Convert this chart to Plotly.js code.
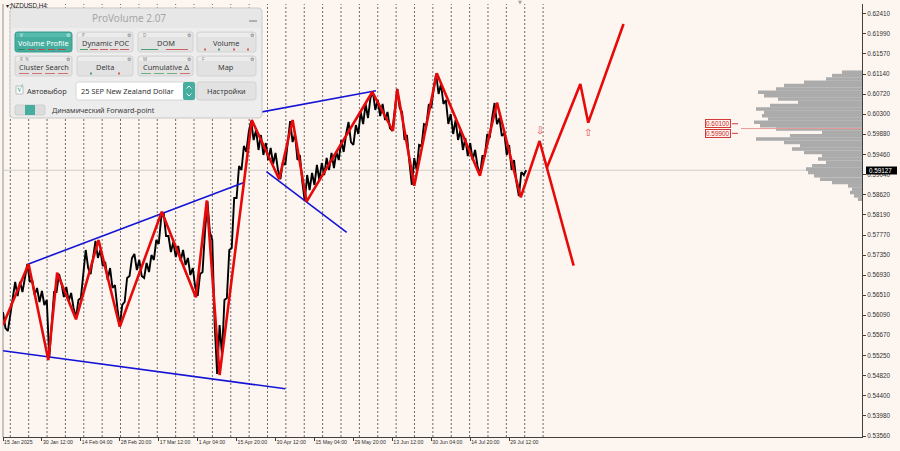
<!DOCTYPE html>
<html>
<head>
<meta charset="utf-8">
<script src="https://cdn.plot.ly/plotly-3.0.1.min.js"></script>
<style>
  html, body { margin: 0; padding: 0; background: #FDF6F0; }
  #chart { width: 900px; height: 451px; }
</style>
</head>
<body>
<div id="chart"></div>
<script>
// ---------------- NZDUSD, H4 : price data ----------------
// Price path sampled every 4 H4 bars (swing extremes of each half-group)
const STEP = 4;
const pricePath = [
  0.56157, 0.55822, 0.55759, 0.56074, 0.56409, 0.56786, 0.56492, 0.56786, 0.56576, 0.56870,
  0.57163, 0.56786, 0.56828, 0.56513, 0.56660, 0.56367, 0.56597, 0.56304, 0.56409, 0.55194,
  0.55885, 0.56576, 0.56576, 0.56953, 0.56765, 0.56472, 0.56681, 0.56388, 0.56555, 0.56241,
  0.56032, 0.56409, 0.56451, 0.56932, 0.57456, 0.57079, 0.56953, 0.57289, 0.57645, 0.57289,
  0.57456, 0.57121, 0.57205, 0.56828, 0.57079, 0.56660, 0.56723, 0.56241, 0.55864, 0.56304,
  0.56367, 0.56870, 0.56911, 0.57289, 0.57372, 0.57037, 0.57247, 0.56911, 0.56870, 0.57184,
  0.56995, 0.57351, 0.57247, 0.57666, 0.57582, 0.58126, 0.58252, 0.57749, 0.57749, 0.57414,
  0.57624, 0.57309, 0.57540, 0.57226, 0.57456, 0.57142, 0.57289, 0.56932, 0.57079, 0.56681,
  0.56492, 0.56953, 0.56995, 0.57833, 0.58482, 0.57833, 0.57666, 0.55885, 0.54859, 0.55885,
  0.55257, 0.56409, 0.56451, 0.57456, 0.57498, 0.58545, 0.58545, 0.59216, 0.59132, 0.59635,
  0.59509, 0.59928, 0.60158, 0.59760, 0.59970, 0.59551, 0.59865, 0.59446, 0.59697, 0.59341,
  0.59593, 0.59258, 0.59488, 0.59132, 0.58943, 0.59299, 0.59237, 0.59697, 0.60158, 0.59718,
  0.59886, 0.59341, 0.59446, 0.58880, 0.58482, 0.59027, 0.58713, 0.59069, 0.58818, 0.59237,
  0.58922, 0.59278, 0.59027, 0.59383, 0.59132, 0.59488, 0.59174, 0.59509, 0.59341, 0.59760,
  0.59509, 0.59886, 0.60137, 0.59718, 0.59656, 0.60074, 0.59886, 0.60347, 0.60095, 0.60514,
  0.60221, 0.60640, 0.60766, 0.60389, 0.60598, 0.60263, 0.60514, 0.60179, 0.60347, 0.60012,
  0.59949, 0.60389, 0.60829, 0.60431, 0.60347, 0.59760, 0.59865, 0.59299, 0.58818, 0.59383,
  0.59132, 0.59656, 0.59635, 0.60095, 0.60074, 0.60514, 0.60431, 0.60850, 0.61143, 0.60724,
  0.60933, 0.60514, 0.60598, 0.60095, 0.60305, 0.59886, 0.60179, 0.59760, 0.59970, 0.59551,
  0.59802, 0.59425, 0.59697, 0.59341, 0.59551, 0.59216, 0.59027, 0.59425, 0.59425, 0.59886,
  0.59802, 0.60221, 0.60535, 0.60095, 0.60221, 0.59844, 0.59907, 0.59446, 0.59656, 0.59132,
  0.59341, 0.58880, 0.58587, 0.59090, 0.59027
];
const lastBid = 0.59127;

// Zigzag swing points (history + projected path)
const zigzagBar   = [0, 42, 74.5, 89, 120, 157, 192, 261, 317, 335, 356, 409, 454, 476, 499, 607, 641, 648, 676, 713, 784, 812, 851, 882, 938];
const zigzagPrice = [0.55885, 0.57163, 0.55152, 0.56981, 0.56004, 0.57666, 0.55849, 0.58258, 0.56465, 0.58493, 0.54838, 0.60179, 0.58937, 0.60179, 0.58468, 0.60766, 0.59949, 0.60822, 0.58803, 0.61157, 0.59012, 0.60542, 0.58560, 0.59739, 0.57127];
// Alternative (bullish) projection
const altBar   = [894, 949, 962, 1020];
const altPrice = [0.59180, 0.60933, 0.60123, 0.62190];

// Trend lines: [bar0, bar1], [price0, price1]
const trendLines = [
  { bars: [42, 395],  prices: [0.57163, 0.58866] },
  { bars: [406, 613], prices: [0.60301, 0.60793] },
  { bars: [433, 565], prices: [0.59096, 0.57827] },
  { bars: [0, 464],   prices: [0.55347, 0.54549] }
];

// Volume profile (price level -> volume)
const vpPrice = [0.6118, 0.6111, 0.6104, 0.6097, 0.6090, 0.6083, 0.6076, 0.6069, 0.6062, 0.6055,
                 0.6048, 0.6041, 0.6034, 0.6027, 0.6020, 0.6013, 0.6006, 0.5999, 0.5992, 0.5985,
                 0.5978, 0.5971, 0.5964, 0.5957, 0.5950, 0.5943, 0.5936, 0.5929, 0.5922, 0.5915,
                 0.5908, 0.5901, 0.5894, 0.5887, 0.5880, 0.5873, 0.5866, 0.5859, 0.5852];
const vpVolume = [20, 30, 36, 58, 78, 86, 104, 98, 84, 64,
                  92, 106, 98, 100, 94, 108, 102, 86, 40, 72,
                  106, 78, 62, 70, 58, 40, 44, 36, 50, 56,
                  54, 48, 42, 30, 14, 10, 12, 8, 4];
const pocPrice = 0.6000;
const levelLabels = [0.60100, 0.59900];

// Axis labels
const timeTickBars = [0, 64, 128, 192, 256, 320, 384, 448, 512, 576, 640, 704, 768, 832];
const timeTickText = ['15 Jan 2025', '30 Jan 12:00', '14 Feb 04:00', '28 Feb 20:00', '17 Mar 12:00',
                      '1 Apr 04:00', '15 Apr 20:00', '30 Apr 12:00', '15 May 04:00', '29 May 20:00',
                      '13 Jun 12:00', '30 Jun 04:00', '14 Jul 20:00', '29 Jul 12:00'];
const priceTicks = [0.62410, 0.61990, 0.61570, 0.61140, 0.60720, 0.60300, 0.59880, 0.59460, 0.59040,
                    0.58620, 0.58190, 0.57770, 0.57350, 0.56930, 0.56510, 0.56090, 0.55670, 0.55250,
                    0.54820, 0.54400, 0.53980, 0.53560];

// ---------------- geometry helpers ----------------
const BG = '#FDF6F0';
const M = { l: 3, r: 38, t: 4, b: 14 };
const W = 900 - M.l - M.r, H = 451 - M.t - M.b;
const pX = x => (x - M.l) / W;
const pY = y => (M.t + H - y) / H;
const P = (x, y) => pX(x).toFixed(5) + ',' + pY(y).toFixed(5);
function roundRect(x0, y0, x1, y1, r) {
  return 'M' + P(x0 + r, y0) + ' L' + P(x1 - r, y0) + ' Q' + P(x1, y0) + ' ' + P(x1, y0 + r) +
         ' L' + P(x1, y1 - r) + ' Q' + P(x1, y1) + ' ' + P(x1 - r, y1) +
         ' L' + P(x0 + r, y1) + ' Q' + P(x0, y1) + ' ' + P(x0, y1 - r) +
         ' L' + P(x0, y0 + r) + ' Q' + P(x0, y0) + ' ' + P(x0 + r, y0) + ' Z';
}

// ---------------- traces ----------------
const pathY = pricePath.concat([lastBid]);
const pathX = pathY.map((_, i) => i * STEP);

const traces = [];
traces.push({
  type: 'bar', orientation: 'h', x: vpVolume, y: vpPrice, width: 0.00074,
  xaxis: 'x2', yaxis: 'y', marker: { color: '#ABABAB', line: { width: 0 } }, hoverinfo: 'skip'
});
traces.push({ type: 'scatter', mode: 'lines', x: pathX, y: pathY, line: { color: '#000000', width: 1.9 }, hoverinfo: 'skip' });
trendLines.forEach(t => traces.push({
  type: 'scatter', mode: 'lines', x: t.bars, y: t.prices, line: { color: '#1414D6', width: 1.6 }, hoverinfo: 'skip'
}));
traces.push({ type: 'scatter', mode: 'lines', x: zigzagBar, y: zigzagPrice, line: { color: '#E60A0A', width: 2.6 }, hoverinfo: 'skip' });
traces.push({ type: 'scatter', mode: 'lines', x: altBar, y: altPrice, line: { color: '#E60A0A', width: 2.6 }, hoverinfo: 'skip' });

// ---------------- shapes & annotations ----------------
const shapes = [];
const ann = [];

// window edge on the left
shapes.push({ type: 'line', xref: 'paper', yref: 'paper', x0: 0, x1: 0, y0: 0, y1: 1,
              line: { color: '#8E8E8E', width: 1 }, layer: 'below' });
// weekly dotted grid
const gridFirst = 12, gridStep = 30.2, gridCount = 30;
for (let k = 0; k < gridCount; k++) {
  const gx = gridFirst + k * gridStep;
  shapes.push({ type: 'line', xref: 'x', yref: 'paper', x0: gx, x1: gx, y0: 0, y1: 1,
                line: { color: '#6A6A6A', width: 1, dash: '2px,2px' }, layer: 'below' });
}
// bid line
shapes.push({ type: 'line', xref: 'paper', yref: 'y', x0: 0, x1: 1, y0: lastBid, y1: lastBid,
              line: { color: '#CFCBC8', width: 1 }, layer: 'below' });
// point of control
shapes.push({ type: 'line', xref: 'paper', yref: 'y', x0: pX(741), x1: 1, y0: pocPrice, y1: pocPrice,
              line: { color: '#E59A9A', width: 1 }, layer: 'above' });
// level labels
levelLabels.forEach(v => {
  shapes.push({ type: 'line', xref: 'paper', yref: 'y', x0: pX(732), x1: pX(738), y0: v, y1: v,
                line: { color: '#D23A3A', width: 1 }, layer: 'above' });
  ann.push({ xref: 'paper', yref: 'y', x: pX(705), y: v, xanchor: 'left', yanchor: 'middle',
             text: v.toFixed(5), showarrow: false, font: { family: 'Liberation Sans', size: 6.4, color: '#C82828' },
             bordercolor: '#D23A3A', borderwidth: 1, borderpad: 0, bgcolor: '#FFF3EE' });
});
// projection arrows
ann.push({ xref: 'x', yref: 'y', x: zigzagBar[23], y: zigzagPrice[23], yshift: 11, text: '⇩', showarrow: false,
           font: { family: 'DejaVu Sans', size: 10, color: '#E04848' } });
ann.push({ xref: 'x', yref: 'y', x: altBar[2], y: altPrice[2], yshift: -10, text: '⇧', showarrow: false,
           font: { family: 'DejaVu Sans', size: 10, color: '#E04848' } });
// last bid tag on the price scale
shapes.push({ type: 'rect', xref: 'paper', yref: 'paper', x0: pX(866), x1: pX(897), y0: pY(174.5), y1: pY(166.5),
              fillcolor: '#000000', line: { width: 0 }, layer: 'above' });
ann.push({ xref: 'paper', yref: 'y', x: pX(867.5), y: lastBid, xanchor: 'left', yanchor: 'middle', text: lastBid.toFixed(5),
           showarrow: false, font: { family: 'Liberation Sans', size: 6.3, color: '#FFFFFF' } });
// chart shift marker
ann.push({ xref: 'x', yref: 'paper', x: 849, y: pY(2.5), text: '▼', showarrow: false,
           font: { family: 'DejaVu Sans', size: 5, color: '#A0A0A0' } });
// symbol caption
ann.push({ xref: 'paper', yref: 'paper', x: pX(4), y: pY(5.5), xanchor: 'left', showarrow: false,
           text: '▾ NZDUSD,H4', font: { family: 'Liberation Sans', size: 6.3, color: '#202020' } });

// ---------------- ProVolume panel ----------------
const UI = 'Noto Sans';
shapes.push({ type: 'path', xref: 'paper', yref: 'paper', path: roundRect(10, 8, 262, 118, 4),
              fillcolor: '#EDEDED', line: { color: '#C6C6C6', width: 1 }, layer: 'above' });
shapes.push({ type: 'path', xref: 'paper', yref: 'paper', path: roundRect(11, 9, 261, 28, 3),
              fillcolor: '#E7E7E7', line: { width: 0 }, layer: 'above' });
ann.push({ xref: 'paper', yref: 'paper', x: pX(128.5), y: pY(18), text: 'ProVolume 2.07', showarrow: false,
           font: { family: UI, size: 10, color: '#A6A6A6' } });
shapes.push({ type: 'line', xref: 'paper', yref: 'paper', x0: pX(249), x1: pX(257), y0: pY(21), y1: pY(21),
              line: { color: '#8C8C8C', width: 1.2 }, layer: 'above' });

const cols = [[15, 72], [77, 133], [138, 193], [197, 256]];
const rows = [[32, 52], [56, 76]];
const buttons = [
  { r: 0, c: 0, text: 'Volume Profile', tag: 'V', active: true, marks: [['#2F8A5A', 18, 25], ['#B84848', 28, 35], ['#B84848', 38, 45], ['#B84848', 48, 55], ['#B84848', 58, 66]] },
  { r: 0, c: 1, text: 'Dynamic POC', tag: 'P', marks: [['#4FA070', 80, 88], ['#D06060', 90, 98], ['#D06060', 100, 108], ['#D06060', 110, 118], ['#D06060', 120, 129]] },
  { r: 0, c: 2, text: 'DOM', tag: 'D', marks: [['#4FA070', 141, 158], ['#D06060', 166, 188]] },
  { r: 0, c: 3, text: 'Volume', tag: '', dots: [['#D06060', 205], ['#4FA070', 219], ['#D06060', 234], ['#D06060', 248]] },
  { r: 1, c: 0, text: 'Cluster Search', tag: 'R  N', marks: [['#D07070', 19, 29], ['#D07070', 32, 42], ['#D07070', 45, 55], ['#D07070', 58, 68]] },
  { r: 1, c: 1, text: 'Delta', tag: '', dots: [['#4FA070', 91], ['#D06060', 119]] },
  { r: 1, c: 2, text: 'Cumulative Δ', tag: 'M', marks: [['#6FB080', 141, 151], ['#6FB080', 154, 164], ['#6FB080', 167, 177], ['#D07070', 180, 190]] },
  { r: 1, c: 3, text: 'Map', tag: 'F' }
];
buttons.forEach(b => {
  const [x0, x1] = cols[b.c], [y0, y1] = rows[b.r];
  shapes.push({ type: 'path', xref: 'paper', yref: 'paper', path: roundRect(x0, y0, x1, y1, 2.5),
                fillcolor: b.active ? '#45AE9F' : '#E2E2E2', line: { color: b.active ? '#3A9C8E' : '#D3D3D3', width: 1 }, layer: 'above' });
  shapes.push({ type: 'rect', xref: 'paper', yref: 'paper', x0: pX(x0 + 1), x1: pX(x1 - 1), y0: pY(y0 + 5), y1: pY(y0 + 1),
                fillcolor: b.active ? '#56BBAC' : '#ECECEC', line: { width: 0 }, layer: 'above' });
  ann.push({ xref: 'paper', yref: 'paper', x: pX((x0 + x1) / 2), y: pY((y0 + y1) / 2 + 0.8), text: b.text, showarrow: false,
             font: { family: UI, size: 7.4, color: b.active ? '#FFFFFF' : '#3A3A3A' } });
  if (b.tag) ann.push({ xref: 'paper', yref: 'paper', x: pX(x0 + 3), y: pY(y0 + 3), xanchor: 'left', text: b.tag, showarrow: false,
                        font: { family: UI, size: 4.5, color: b.active ? '#E8F6F3' : '#8A8A8A' } });
  ann.push({ xref: 'paper', yref: 'paper', x: pX(x1 - 4), y: pY(y0 + 3), text: '⚙', showarrow: false,
             font: { family: 'DejaVu Sans', size: 5, color: b.active ? '#E0F2EF' : '#6E6E6E' } });
  (b.marks || []).forEach(m => shapes.push({ type: 'line', xref: 'paper', yref: 'paper', x0: pX(m[1]), x1: pX(m[2]),
      y0: pY(y1 - 2.5), y1: pY(y1 - 2.5), line: { color: m[0], width: 1 }, layer: 'above' }));
  (b.dots || []).forEach(d => shapes.push({ type: 'rect', xref: 'paper', yref: 'paper', x0: pX(d[1] - 1), x1: pX(d[1] + 1),
      y0: pY(y1 - 1.5), y1: pY(y1 - 3.5), fillcolor: d[0], line: { width: 0 }, layer: 'above' }));
});

// auto-select checkbox, contract selector, settings button
shapes.push({ type: 'rect', xref: 'paper', yref: 'paper', x0: pX(16), x1: pX(23), y0: pY(94), y1: pY(86),
              fillcolor: '#FFFFFF', line: { color: '#BDBDBD', width: 1 }, layer: 'above' });
ann.push({ xref: 'paper', yref: 'paper', x: pX(19.5), y: pY(89), text: '√', showarrow: false,
           font: { family: 'DejaVu Sans', size: 9, color: '#3AA595' } });
ann.push({ xref: 'paper', yref: 'paper', x: pX(25), y: pY(90.5), xanchor: 'left', text: 'Автовыбор', showarrow: false,
           font: { family: UI, size: 7.4, color: '#3A3A3A' } });
shapes.push({ type: 'path', xref: 'paper', yref: 'paper', path: roundRect(76, 82, 195, 100, 2.5),
              fillcolor: '#FFFFFF', line: { color: '#D6D6D6', width: 1 }, layer: 'above' });
ann.push({ xref: 'paper', yref: 'paper', x: pX(79), y: pY(91.3), xanchor: 'left', text: '25 SEP New Zealand Dollar', showarrow: false,
           font: { family: UI, size: 7.4, color: '#333333' } });
shapes.push({ type: 'path', xref: 'paper', yref: 'paper', path: roundRect(183, 82, 195, 100, 2),
              fillcolor: '#45AE9F', line: { width: 0 }, layer: 'above' });
shapes.push({ type: 'path', xref: 'paper', yref: 'paper', path: 'M' + P(186.5, 88.5) + ' L' + P(189, 86) + ' L' + P(191.5, 88.5),
              line: { color: '#E6F5F2', width: 1 }, layer: 'above' });
shapes.push({ type: 'path', xref: 'paper', yref: 'paper', path: 'M' + P(186.5, 93.5) + ' L' + P(189, 96) + ' L' + P(191.5, 93.5),
              line: { color: '#E6F5F2', width: 1 }, layer: 'above' });
shapes.push({ type: 'path', xref: 'paper', yref: 'paper', path: roundRect(197, 82, 256, 100, 2.5),
              fillcolor: '#E2E2E2', line: { color: '#D3D3D3', width: 1 }, layer: 'above' });
ann.push({ xref: 'paper', yref: 'paper', x: pX(226.5), y: pY(91.3), text: 'Настройки', showarrow: false,
           font: { family: UI, size: 7.4, color: '#3A3A3A' } });

// forward-point toggle
shapes.push({ type: 'path', xref: 'paper', yref: 'paper', path: roundRect(15, 105, 45, 115, 2),
              fillcolor: '#DCDCDC', line: { color: '#CFCFCF', width: 1 }, layer: 'above' });
shapes.push({ type: 'rect', xref: 'paper', yref: 'paper', x0: pX(25), x1: pX(35), y0: pY(115), y1: pY(105),
              fillcolor: '#45AE9F', line: { width: 0 }, layer: 'above' });
ann.push({ xref: 'paper', yref: 'paper', x: pX(50), y: pY(110.3), xanchor: 'left', text: 'Динамический Forward-point', showarrow: false,
           font: { family: UI, size: 7.2, color: '#3A3A3A' } });

// explicit anchors for every text
ann.forEach(a => {
  if (!a.xanchor) a.xanchor = 'center';
  if (!a.yanchor) a.yanchor = 'middle';
});

// ---------------- layout ----------------
const axisFont = { family: 'Liberation Sans', size: 6.3, color: '#303030' };
const layout = {
  width: 900, height: 451,
  margin: M,
  paper_bgcolor: BG, plot_bgcolor: BG,
  showlegend: false, hovermode: false,
  xaxis: {
    range: [0, 1412], showgrid: false, zeroline: false,
    tickmode: 'array', tickvals: timeTickBars, ticktext: timeTickText,
    ticks: 'outside', ticklen: 3, tickcolor: '#404040',
    tickfont: { family: 'Liberation Sans', size: 5.2, color: '#303030' },
    ticklabelposition: 'outside right', tickangle: 0,
    showline: true, linecolor: '#404040', linewidth: 1, fixedrange: true
  },
  xaxis2: { overlaying: 'x', range: [W, 0], visible: false, showgrid: false, zeroline: false, fixedrange: true },
  yaxis: {
    side: 'right', range: [0.53539, 0.62609], showgrid: false, zeroline: false,
    tickmode: 'array', tickvals: priceTicks, tickformat: '.5f',
    ticks: 'outside', ticklen: 3, tickcolor: '#404040', tickfont: axisFont,
    showline: true, linecolor: '#404040', linewidth: 1, fixedrange: true
  },
  shapes: shapes,
  annotations: ann
};

Plotly.newPlot('chart', traces, layout, { staticPlot: true, displayModeBar: false });
</script>
</body>
</html>
